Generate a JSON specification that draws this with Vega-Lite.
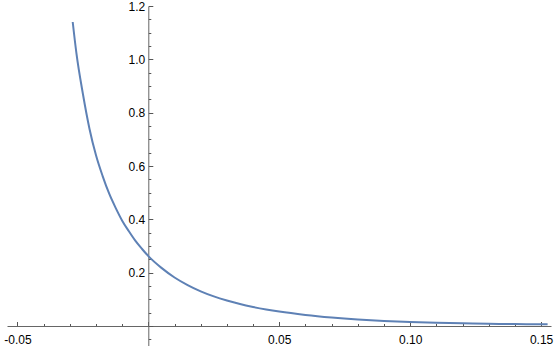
{
  "$schema": "https://vega.github.io/schema/vega-lite/v6.json",
  "width": 544,
  "height": 340,
  "autosize": {"type": "none"},
  "padding": {"left": 7, "top": 6, "right": 3, "bottom": 0},
  "background": "white",
  "config": {
    "view": {"stroke": null},
    "axis": {
      "grid": false,
      "domainColor": "#666666",
      "tickColor": "#555555",
      "domainWidth": 1,
      "tickWidth": 1,
      "labelColor": "#000000",
      "labelFont": "Liberation Sans",
      "labelFontSize": 12,
      "labelOverlap": false,
      "labelFlush": false,
      "title": null
    }
  },
  "data": {
    "values": [
      {"x": -0.0289, "y": 1.14},
      {"x": -0.0275, "y": 1.024},
      {"x": -0.025, "y": 0.87},
      {"x": -0.0225, "y": 0.74},
      {"x": -0.02, "y": 0.64},
      {"x": -0.0175, "y": 0.563},
      {"x": -0.015, "y": 0.497},
      {"x": -0.0125, "y": 0.443},
      {"x": -0.01, "y": 0.395},
      {"x": -0.0075, "y": 0.356},
      {"x": -0.005, "y": 0.32},
      {"x": -0.0025, "y": 0.29},
      {"x": 0, "y": 0.262},
      {"x": 0.005, "y": 0.218},
      {"x": 0.01, "y": 0.182},
      {"x": 0.015, "y": 0.1535},
      {"x": 0.02, "y": 0.13},
      {"x": 0.025, "y": 0.111},
      {"x": 0.03, "y": 0.0955},
      {"x": 0.035, "y": 0.0823},
      {"x": 0.04, "y": 0.0714},
      {"x": 0.045, "y": 0.0621},
      {"x": 0.05, "y": 0.0541},
      {"x": 0.06, "y": 0.0416},
      {"x": 0.07, "y": 0.0321},
      {"x": 0.08, "y": 0.0247},
      {"x": 0.09, "y": 0.0191},
      {"x": 0.1, "y": 0.0147},
      {"x": 0.11, "y": 0.012},
      {"x": 0.12, "y": 0.0101},
      {"x": 0.13, "y": 0.0085},
      {"x": 0.14, "y": 0.0072},
      {"x": 0.15, "y": 0.0063},
      {"x": 0.1525, "y": 0.0061}
    ]
  },
  "mark": {"type": "line", "color": "#5E81B5", "strokeWidth": 2, "interpolate": "monotone", "clip": true},
  "encoding": {
    "x": {
      "field": "x",
      "type": "quantitative",
      "scale": {"domain": [-0.054, 0.1538], "nice": false, "zero": false},
      "axis": {
        "orient": "bottom",
        "offset": -20,
        "values": [-0.05, -0.04, -0.03, -0.02, -0.01, 0, 0.01, 0.02, 0.03, 0.04, 0.05, 0.06, 0.07, 0.08, 0.09, 0.1, 0.11, 0.12, 0.13, 0.14, 0.15],
        "tickSize": {"condition": {"test": "abs(round(datum.value*100)) % 5 == 0", "value": -4.5}, "value": -2.5},
        "labelExpr": "abs(round(datum.value*100)) % 5 == 0 && datum.value != 0 ? replace(format(datum.value, '.2f'), '\u2212', '-') : ''",
        "labelPadding": 13
      }
    },
    "y": {
      "field": "y",
      "type": "quantitative",
      "scale": {"domain": [-0.075, 1.2], "nice": false, "zero": false},
      "axis": {
        "orient": "left",
        "offset": -141.3,
        "values": [-0.05, 0, 0.05, 0.1, 0.15, 0.2, 0.25, 0.3, 0.35, 0.4, 0.45, 0.5, 0.55, 0.6, 0.65, 0.7, 0.75, 0.8, 0.85, 0.9, 0.95, 1.0, 1.05, 1.1, 1.15, 1.2],
        "tickSize": {"condition": {"test": "abs(round(datum.value*100)) % 20 == 0", "value": -4.5}, "value": -2.5},
        "labelExpr": "abs(round(datum.value*100)) % 20 == 0 && datum.value != 0 ? format(datum.value, '.1f') : ''",
        "labelPadding": 8
      }
    }
  }
}
